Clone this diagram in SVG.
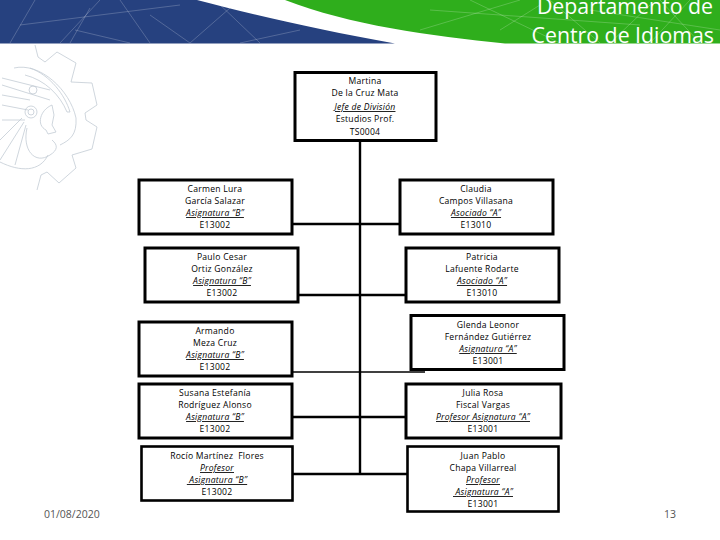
<svg xmlns="http://www.w3.org/2000/svg" width="720" height="540" viewBox="0 0 720 540">
<style>
.box{fill:#fff;stroke:#000;stroke-width:3}
.t{stroke-width:2.6}
.c{stroke:#000;stroke-width:2.4;fill:none}
.c2{stroke:#000;stroke-width:1.4;fill:none}
text{font-family:"Open Sans","Noto Sans","DejaVu Sans",sans-serif;fill:#000}
.n text{font-size:8.6px;text-anchor:middle;letter-spacing:.25px;white-space:pre}
.u{font-style:italic;text-decoration:underline}
.h{font-size:21.3px;fill:#fff;text-anchor:end}
.f{font-size:10.5px;fill:#555}
.w{fill:none;stroke:#fff;stroke-opacity:.3;stroke-width:.7}
.l{fill:none;stroke:#c3ccd4;stroke-width:.8}
</style>
<rect width="720" height="540" fill="#fff"/>
<g id="header">
<path d="M0 0H197C250 14 320 30 395 43.500H0Z" fill="#26417f"/>
<path d="M285 0H720V43.500H505C430 36 350 25 285 0Z" fill="#2fae1c"/>
<path class="w" d="M10 43L35 0M60 43L100 0M75 30L130 43M120 0L150 43M20 25L180 5M190 43L230 8M215 0L260 43M240 43L300 30M90 8L70 43M150 15L190 43M650 43L690 0M420 30L520 0M470 0L560 43M550 0L600 43M590 10L720 30M430 10L640 25M660 0L700 43M500 30L540 5M610 43L650 5"/>
<text class="h" x="713" y="14">Departamento de</text>
<text class="h" x="714" y="43">Centro de Idiomas</text>
</g>
<g id="logo">
<path class="l" d="M35 45L38 57L45 62L57 52L76 63L71 82L92 83L97 105L85 113L86 120L97 127L92 149L72 155L76 168L59 183L47 172L41 175L37 190"/>
<path class="l" d="M14 68C40 62 70 90 76 118C77 135 70 140 60 145M30 68C50 75 65 95 70 112L67 112C60 95 45 80 25 75M2 78L50 90M2 85L50 100M2 95L30 100M2 105L28 110M2 120L25 120"/>
<circle class="l" cx="31" cy="112" r="6"/><circle class="l" cx="31" cy="112" r="3"/><circle class="l" cx="33" cy="90" r="4"/>
<path class="l" d="M52 105C40 110 36 125 46 130L48 134L56 132L52 125L54 115ZM0 140L22 118M0 160L24 122M15 165L26 125M27 128C22 150 35 165 50 155C58 150 58 145 52 140M0 162C20 172 40 172 48 155"/>
</g>
<g id="connectors">
<path class="c" d="M360 141V474M293 224H399M298 295H405M293 417H405M293 474H407"/>
<path class="c2" d="M293 372H425"/>
</g>
<g id="n0" class="n"><rect class="box" x="295" y="72.500" width="141" height="68"/><text x="365" y="84">Martina</text><text x="365" y="96">De la Cruz Mata</text><text x="365" y="110" class="u">Jefe de División</text><text x="365" y="122">Estudios Prof.</text><text x="365" y="135">TS0004</text></g>
<g id="n1" class="n"><rect class="box" x="139" y="180" width="153" height="54"/><text x="215" y="192">Carmen Lura</text><text x="215" y="204">García Salazar</text><text x="215" y="216" class="u">Asignatura “B”</text><text x="215" y="228">E13002</text></g>
<g id="n2" class="n"><rect class="box" x="400" y="180" width="153" height="54"/><text x="476" y="192">Claudia</text><text x="476" y="204">Campos Villasana</text><text x="476" y="216" class="u">Asociado “A”</text><text x="476" y="228">E13010</text></g>
<g id="n3" class="n"><rect class="box" x="145" y="248" width="153" height="54"/><text x="222" y="260">Paulo Cesar</text><text x="222" y="272">Ortiz González</text><text x="222" y="284" class="u">Asignatura “B”</text><text x="222" y="296">E13002</text></g>
<g id="n4" class="n"><rect class="box" x="406" y="248" width="153" height="54"/><text x="482" y="260">Patricia</text><text x="482" y="272">Lafuente Rodarte</text><text x="482" y="284" class="u">Asociado “A”</text><text x="482" y="296">E13010</text></g>
<g id="n5" class="n"><rect class="box" x="139" y="322" width="153" height="54"/><text x="215" y="334">Armando</text><text x="215" y="346">Meza Cruz</text><text x="215" y="358" class="u">Asignatura “B”</text><text x="215" y="370">E13002</text></g>
<g id="n6" class="n"><rect class="box" x="411" y="315.500" width="153" height="54"/><text x="488" y="328">Glenda Leonor</text><text x="488" y="340">Fernández Gutiérrez</text><text x="488" y="352" class="u">Asignatura “A”</text><text x="488" y="364">E13001</text></g>
<g id="n7" class="n"><rect class="box" x="139" y="384" width="153" height="54"/><text x="215" y="396">Susana Estefanía</text><text x="215" y="408">Rodríguez Alonso</text><text x="215" y="420" class="u">Asignatura “B”</text><text x="215" y="432">E13002</text></g>
<g id="n8" class="n"><rect class="box" x="406" y="384" width="155" height="54"/><text x="483" y="396">Julia Rosa</text><text x="483" y="408">Fiscal Vargas</text><text x="483" y="420" class="u">Profesor Asignatura “A”</text><text x="483" y="432">E13001</text></g>
<g id="n9" class="n"><rect class="box t" x="141.500" y="446.500" width="151" height="54"/><text x="217" y="459">Rocío Martínez  Flores</text><text x="217" y="471" class="u">Profesor</text><text x="217" y="483" class="u"> Asignatura “B”</text><text x="217" y="495">E13002</text></g>
<g id="n10" class="n"><rect class="box t" x="407.500" y="446.500" width="151" height="65"/><text x="483" y="459">Juan Pablo</text><text x="483" y="471">Chapa Villarreal</text><text x="483" y="483" class="u">Profesor</text><text x="483" y="495" class="u"> Asignatura “A”</text><text x="483" y="507">E13001</text></g>
<text class="f" x="44" y="518">01/08/2020</text>
<text class="f" x="664" y="518">13</text>
</svg>
